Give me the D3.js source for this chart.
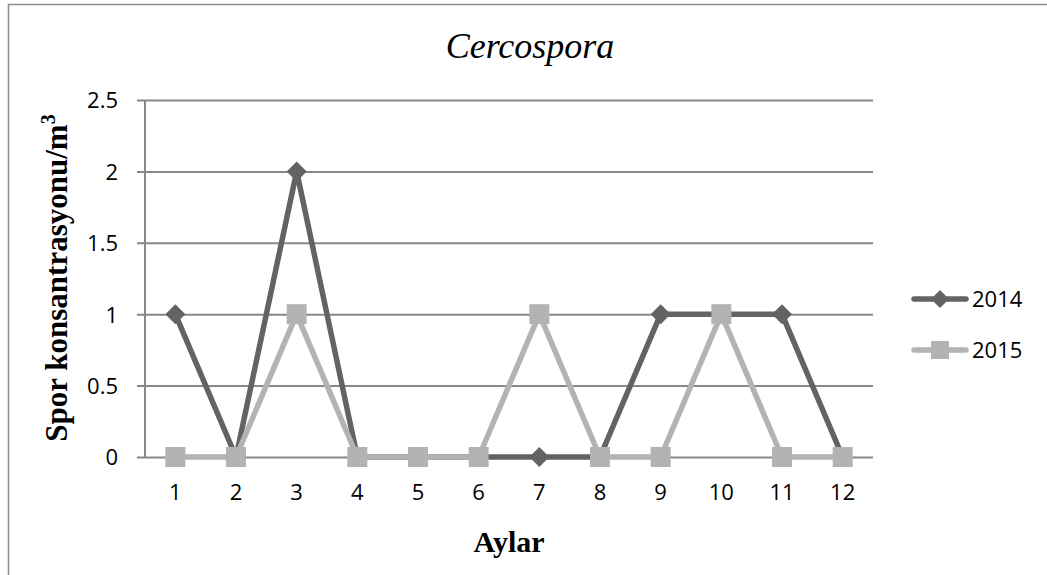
<!DOCTYPE html>
<html>
<head>
<meta charset="utf-8">
<script src="https://cdn.jsdelivr.net/npm/d3@7"></script>
<style>
  body { margin: 0; background: #fff; }
</style>
</head>
<body>
<svg></svg>
<script>
// chart data
const months = ['1', '2', '3', '4', '5', '6', '7', '8', '9', '10', '11', '12'];
const values2014 = [1, 0, 2, 0, 0, 0, 0, 0, 1, 1, 1, 0];
const values2015 = [0, 0, 1, 0, 0, 0, 1, 0, 0, 1, 0, 0];
const yTicks = [0, 0.5, 1, 1.5, 2, 2.5];
const seriesNames = ['2014', '2015'];

const w = 1047;
const h = 575;
const plotLeft = 145, plotRight = 873, plotTop = 100, plotBottom = 457;

const svg = d3.select('svg')
    .attr('width', w)
    .attr('height', h);

// outer frame (only left and top edges visible)
svg.append('path')
    .attr('d', `M8.5,${h} L8.5,4.5 L${w},4.5`)
    .attr('fill', 'none')
    .attr('stroke', '#8c8c8c')
    .attr('stroke-width', 1.5);

const xScale = d3.scaleBand()
    .domain(months)
    .range([plotLeft, plotRight]);

const yScale = d3.scaleLinear()
    .domain([0, 2.5])
    .range([plotBottom, plotTop]);

// gridlines + y axis
const yAxis = d3.axisLeft(yScale)
    .tickValues(yTicks)
    .tickSize(-(plotRight - plotLeft))
    .tickFormat(d => d);
const gy = svg.append('g')
    .attr('transform', `translate(${plotLeft},0)`)
    .call(yAxis);
gy.select('.domain').remove();
gy.selectAll('.tick line')
    .attr('x1', -8)
    .attr('stroke', '#888')
    .attr('stroke-width', 2);
gy.selectAll('.tick text')
    .attr('x', -27)
    .attr('dy', '0.36em')
    .style('font-family', 'Open Sans, sans-serif')
    .style('font-size', '22px')
    .attr('fill', '#000');

// y axis line
svg.append('line')
    .attr('x1', plotLeft).attr('x2', plotLeft)
    .attr('y1', plotTop).attr('y2', plotBottom + 1)
    .attr('stroke', '#888')
    .attr('stroke-width', 2);

// x axis
const xAxis = d3.axisBottom(xScale).tickSize(0);
const gx = svg.append('g')
    .attr('transform', `translate(0,${plotBottom})`)
    .call(xAxis);
gx.select('.domain').remove();
gx.selectAll('.tick text')
    .attr('y', 43)
    .attr('dy', 0)
    .style('font-family', 'Open Sans, sans-serif')
    .style('font-size', '22px')
    .attr('fill', '#000');

const xPos = (i) => xScale(months[i]) + xScale.bandwidth() / 2;

const line = d3.line()
    .x((d, i) => xPos(i))
    .y(d => yScale(d));

const col2014 = '#636363';
const col2015 = '#b3b3b3';

// 2014 series
svg.append('path')
    .datum(values2014)
    .attr('d', line)
    .attr('fill', 'none')
    .attr('stroke', col2014)
    .attr('stroke-width', 5.5)
    .attr('stroke-linejoin', 'round');
svg.selectAll('.m2014')
    .data(values2014)
    .enter()
    .append('path')
    .attr('class', 'm2014')
    .attr('d', 'M0,-10 L10,0 L0,10 L-10,0 Z')
    .attr('transform', (d, i) => `translate(${xPos(i)},${yScale(d)})`)
    .attr('fill', col2014);

// 2015 series
svg.append('path')
    .datum(values2015)
    .attr('d', line)
    .attr('fill', 'none')
    .attr('stroke', col2015)
    .attr('stroke-width', 5.5)
    .attr('stroke-linejoin', 'round');
svg.selectAll('.m2015')
    .data(values2015)
    .enter()
    .append('rect')
    .attr('class', 'm2015')
    .attr('x', (d, i) => xPos(i) - 10)
    .attr('y', d => yScale(d) - 10)
    .attr('width', 20)
    .attr('height', 20)
    .attr('fill', col2015);

// title
svg.append('text')
    .attr('x', 530)
    .attr('y', 58)
    .attr('text-anchor', 'middle')
    .style('font-family', 'Liberation Serif, Times New Roman, serif')
    .style('font-style', 'italic')
    .style('font-size', '36px')
    .text('Cercospora');

// axis labels
svg.append('text')
    .attr('x', 509)
    .attr('y', 552)
    .attr('text-anchor', 'middle')
    .style('font-family', 'Liberation Serif, Times New Roman, serif')
    .style('font-weight', 'bold')
    .style('font-size', '30px')
    .text('Aylar');

const yLabel = svg.append('text')
    .attr('transform', 'translate(67,278) rotate(-90)')
    .attr('text-anchor', 'middle')
    .style('font-family', 'Liberation Serif, Times New Roman, serif')
    .style('font-weight', 'bold')
    .style('font-size', '31px');
yLabel.append('tspan').text('Spor konsantrasyonu/m');
yLabel.append('tspan').attr('dy', -12).style('font-size', '20px').text('3');

// legend
const legend = svg.append('g');
seriesNames.forEach((name, i) => {
    const y = 299 + i * 51;
    const c = i === 0 ? col2014 : col2015;
    legend.append('line')
        .attr('x1', 914).attr('x2', 966)
        .attr('y1', y).attr('y2', y)
        .attr('stroke', c)
        .attr('stroke-width', 5.5)
        .attr('stroke-linecap', 'round');
    if (i === 0) {
        legend.append('path')
            .attr('d', 'M0,-9 L9,0 L0,9 L-9,0 Z')
            .attr('transform', `translate(940,${y})`)
            .attr('fill', c);
    } else {
        legend.append('rect')
            .attr('x', 940 - 9).attr('y', y - 9)
            .attr('width', 18).attr('height', 18)
            .attr('fill', c);
    }
    legend.append('text')
        .attr('x', 972)
        .attr('y', y + 8)
        .style('font-family', 'Open Sans, sans-serif')
        .style('font-size', '22px')
        .text(name);
});
</script>
</body>
</html>
